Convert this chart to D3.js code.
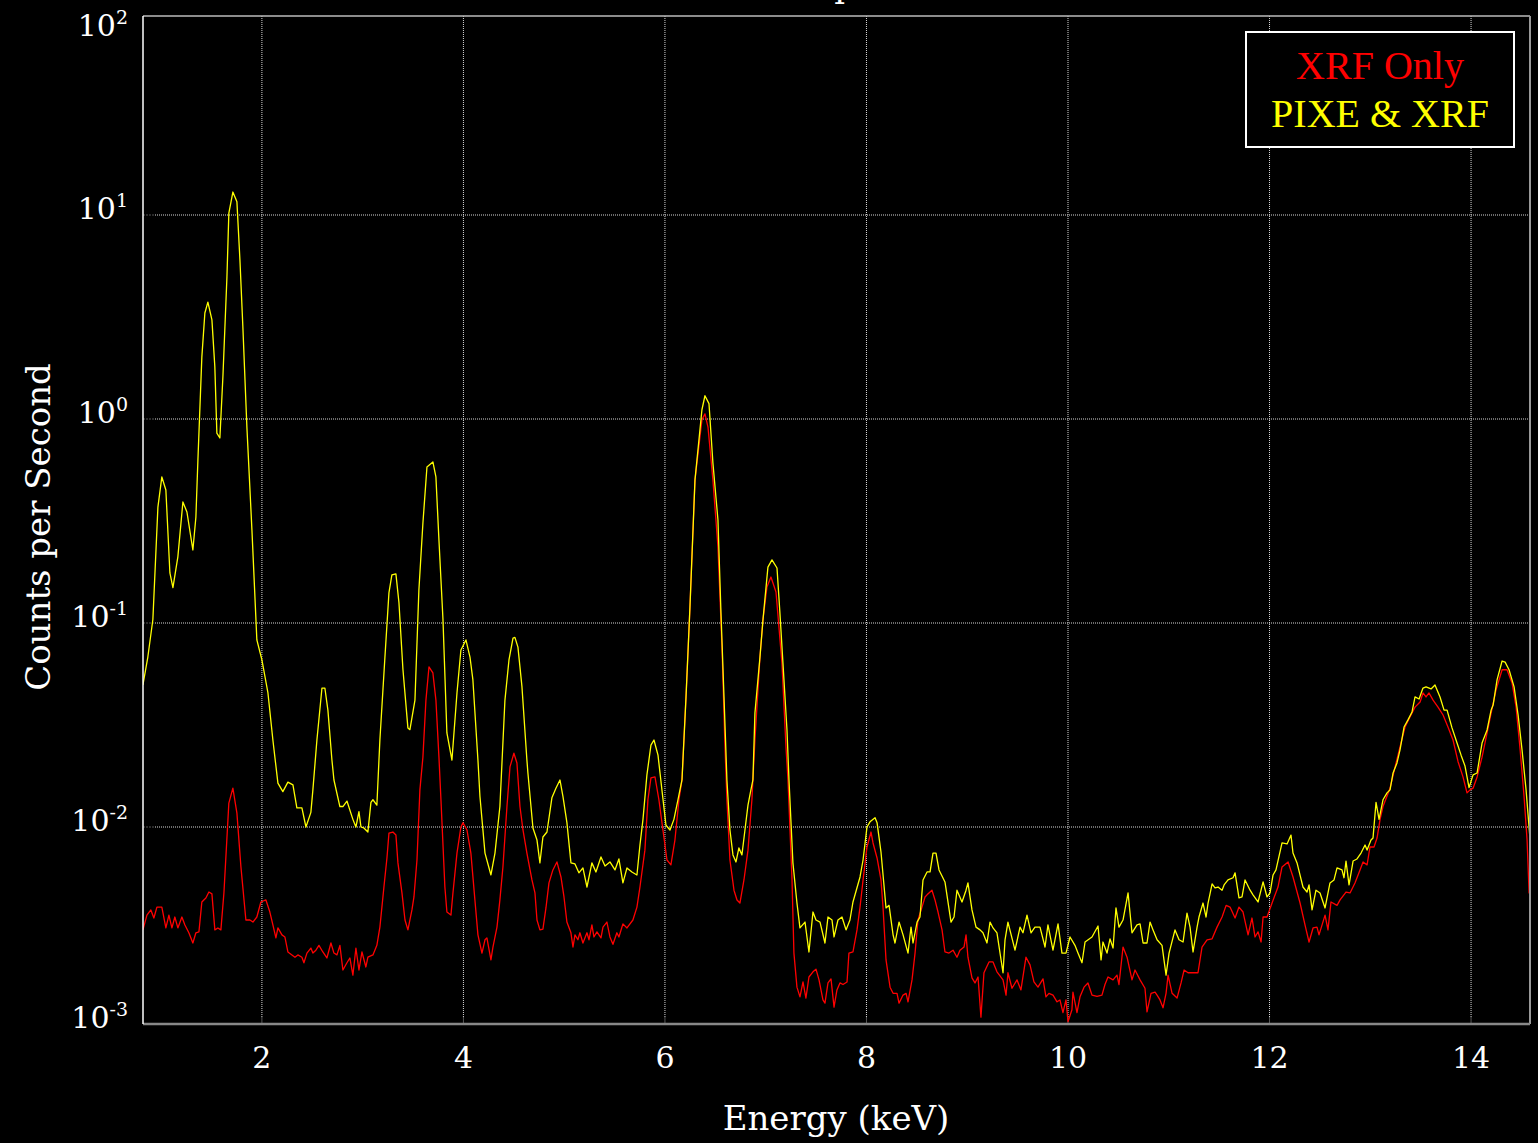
<!DOCTYPE html>
<html>
<head>
<meta charset="utf-8">
<script src="https://cdn.jsdelivr.net/npm/d3@7"></script>
<style>
  html, body { margin: 0; padding: 0; background: #000; }
  svg { display: block; }
</style>
</head>
<body>
<div id="vis"></div>
<script>
// tick values and legend entries
const xTicks = [2, 4, 6, 8, 10, 12, 14];
const yTicks = [1e-3, 1e-2, 1e-1, 1, 10, 100];
const gridY = [1e-2, 1e-1, 1, 10];
const legendLabels = ["XRF Only", "PIXE & XRF"];
const seriesColors = ["#ff0000", "#ffff00"];

// XRF only spectrum: [energy keV, counts per second]
const xrfOnly = [[0.819,0.00313],[0.859,0.0037],[0.898,0.00392],[0.928,0.00358],[0.958,0.00405],[1.007,0.00405],[1.047,0.0032],[1.077,0.0037],[1.107,0.0032],[1.136,0.00362],[1.166,0.0032],[1.206,0.00362],[1.236,0.00331],[1.275,0.00303],[1.315,0.0027],[1.345,0.00303],[1.375,0.00306],[1.404,0.00429],[1.444,0.00449],[1.474,0.0048],[1.504,0.0047],[1.533,0.00313],[1.563,0.0032],[1.593,0.00313],[1.623,0.00475],[1.672,0.0131],[1.712,0.0155],[1.752,0.0117],[1.792,0.00637],[1.841,0.0035],[1.881,0.0035],[1.911,0.00342],[1.95,0.00362],[1.99,0.00429],[2.04,0.00439],[2.079,0.00383],[2.109,0.00331],[2.139,0.00286],[2.159,0.0032],[2.199,0.00296],[2.228,0.00289],[2.258,0.00244],[2.298,0.00236],[2.328,0.0023],[2.357,0.00236],[2.397,0.0023],[2.417,0.00216],[2.447,0.00241],[2.486,0.00255],[2.506,0.00241],[2.536,0.00249],[2.566,0.00263],[2.605,0.00244],[2.645,0.00228],[2.685,0.0027],[2.715,0.00241],[2.745,0.00236],[2.774,0.00263],[2.804,0.00199],[2.844,0.00216],[2.873,0.00228],[2.903,0.00188],[2.933,0.00255],[2.963,0.00199],[2.993,0.00244],[3.032,0.00206],[3.052,0.0023],[3.102,0.00236],[3.141,0.00263],[3.171,0.00323],[3.211,0.00508],[3.241,0.00705],[3.261,0.00934],[3.3,0.00945],[3.33,0.00913],[3.35,0.00667],[3.39,0.00475],[3.42,0.0035],[3.449,0.00313],[3.489,0.00392],[3.509,0.00454],[3.539,0.00689],[3.568,0.0152],[3.598,0.022],[3.628,0.0419],[3.658,0.0609],[3.697,0.0569],[3.727,0.0419],[3.757,0.022],[3.777,0.0136],[3.816,0.00508],[3.836,0.00383],[3.876,0.0037],[3.896,0.00475],[3.936,0.00745],[3.975,0.01],[3.995,0.0105],[4.035,0.00967],[4.074,0.00745],[4.114,0.00439],[4.144,0.00296],[4.184,0.00241],[4.214,0.0028],[4.233,0.00286],[4.273,0.00223],[4.293,0.00258],[4.333,0.00323],[4.362,0.00439],[4.392,0.00637],[4.432,0.0126],[4.462,0.0197],[4.501,0.023],[4.531,0.0206],[4.561,0.0126],[4.591,0.00967],[4.63,0.00745],[4.68,0.0055],[4.71,0.00475],[4.73,0.0035],[4.759,0.00313],[4.789,0.00316],[4.819,0.00401],[4.849,0.00532],[4.888,0.00616],[4.928,0.00674],[4.968,0.00569],[4.998,0.00454],[5.027,0.00342],[5.067,0.00303],[5.087,0.00258],[5.107,0.00296],[5.136,0.0028],[5.156,0.00303],[5.186,0.0027],[5.226,0.00303],[5.246,0.0028],[5.275,0.00331],[5.295,0.00289],[5.325,0.00306],[5.365,0.00286],[5.385,0.00323],[5.424,0.00342],[5.454,0.00289],[5.484,0.00266],[5.523,0.00303],[5.543,0.00289],[5.583,0.00335],[5.623,0.0032],[5.682,0.0035],[5.722,0.00405],[5.752,0.00508],[5.801,0.0077],[5.831,0.0136],[5.861,0.0174],[5.901,0.0176],[5.94,0.0136],[5.98,0.00967],[6.02,0.00689],[6.059,0.00652],[6.099,0.00863],[6.139,0.0136],[6.169,0.017],[6.209,0.0434],[6.248,0.119],[6.298,0.503],[6.367,0.99],[6.397,1.06],[6.427,0.913],[6.476,0.503],[6.526,0.236],[6.566,0.0762],[6.596,0.0247],[6.615,0.0136],[6.645,0.00689],[6.685,0.0049],[6.715,0.00439],[6.744,0.00424],[6.784,0.0055],[6.824,0.0077],[6.863,0.0136],[6.893,0.0267],[6.943,0.0681],[6.973,0.104],[7.012,0.15],[7.052,0.168],[7.102,0.142],[7.161,0.0637],[7.201,0.0247],[7.221,0.017],[7.261,0.0055],[7.28,0.00241],[7.31,0.00164],[7.34,0.00147],[7.37,0.00174],[7.399,0.00145],[7.429,0.00184],[7.469,0.00195],[7.499,0.00201],[7.529,0.00178],[7.568,0.00142],[7.588,0.00137],[7.618,0.00172],[7.648,0.0018],[7.678,0.00131],[7.707,0.00159],[7.737,0.00172],[7.767,0.00169],[7.807,0.00174],[7.826,0.00241],[7.866,0.00244],[7.906,0.00313],[7.936,0.00405],[7.966,0.0055],[8.005,0.00798],[8.045,0.00945],[8.065,0.00835],[8.105,0.00705],[8.144,0.0055],[8.164,0.00405],[8.194,0.00223],[8.234,0.00164],[8.264,0.00153],[8.303,0.00153],[8.323,0.00137],[8.363,0.0015],[8.393,0.00153],[8.412,0.00139],[8.452,0.00178],[8.482,0.00241],[8.511,0.0035],[8.551,0.00405],[8.581,0.00454],[8.601,0.00465],[8.65,0.0049],[8.68,0.00439],[8.71,0.00383],[8.75,0.00313],[8.779,0.00244],[8.819,0.00241],[8.859,0.00249],[8.898,0.0023],[8.928,0.00249],[8.968,0.00258],[8.988,0.00296],[9.007,0.0023],[9.047,0.00182],[9.077,0.00172],[9.107,0.00184],[9.136,0.00117],[9.166,0.00193],[9.216,0.00218],[9.256,0.00218],[9.295,0.00195],[9.355,0.00178],[9.385,0.0015],[9.404,0.00193],[9.444,0.00162],[9.494,0.00178],[9.533,0.00159],[9.583,0.0023],[9.623,0.00211],[9.662,0.00174],[9.702,0.00164],[9.752,0.0018],[9.781,0.00147],[9.811,0.00153],[9.851,0.0015],[9.891,0.00139],[9.92,0.00142],[9.95,0.00123],[9.98,0.00142],[10.0,0.00111],[10.039,0.00127],[10.049,0.00155],[10.089,0.00123],[10.119,0.00147],[10.159,0.00164],[10.198,0.00172],[10.238,0.0015],[10.288,0.00148],[10.337,0.0015],[10.367,0.00169],[10.397,0.00184],[10.447,0.00178],[10.486,0.00188],[10.506,0.00169],[10.546,0.00258],[10.586,0.0023],[10.635,0.00178],[10.665,0.00199],[10.715,0.00178],[10.764,0.00162],[10.784,0.00124],[10.824,0.00153],[10.864,0.00155],[10.884,0.0015],[10.913,0.00142],[10.943,0.0013],[10.973,0.00153],[10.993,0.00188],[11.033,0.00153],[11.082,0.00145],[11.122,0.00172],[11.152,0.00199],[11.191,0.00193],[11.241,0.00193],[11.29,0.00193],[11.33,0.00258],[11.38,0.0028],[11.43,0.00283],[11.479,0.00323],[11.529,0.00362],[11.569,0.00413],[11.608,0.00405],[11.658,0.00358],[11.697,0.00405],[11.737,0.00383],[11.787,0.00296],[11.826,0.00358],[11.856,0.00289],[11.886,0.00306],[11.916,0.00273],[11.936,0.00362],[11.975,0.00362],[12.025,0.00424],[12.084,0.00508],[12.124,0.00637],[12.184,0.00674],[12.233,0.00569],[12.303,0.00424],[12.352,0.00331],[12.392,0.00273],[12.432,0.0032],[12.471,0.00323],[12.491,0.00296],[12.551,0.0037],[12.58,0.00313],[12.61,0.00429],[12.67,0.00413],[12.7,0.00439],[12.759,0.0048],[12.799,0.00475],[12.848,0.00532],[12.898,0.00616],[12.928,0.00674],[12.968,0.00652],[12.997,0.00798],[13.037,0.00798],[13.067,0.00883],[13.097,0.0109],[13.126,0.0126],[13.196,0.0155],[13.246,0.0197],[13.295,0.0247],[13.345,0.0309],[13.394,0.0346],[13.444,0.0387],[13.494,0.041],[13.523,0.0454],[13.553,0.0434],[13.583,0.0454],[13.623,0.0419],[13.672,0.0387],[13.722,0.0354],[13.771,0.0309],[13.821,0.0267],[13.871,0.0209],[13.92,0.0176],[13.96,0.0147],[13.99,0.0152],[14.02,0.0155],[14.06,0.0176],[14.109,0.022],[14.159,0.0289],[14.199,0.0362],[14.248,0.047],[14.308,0.059],[14.357,0.059],[14.407,0.0508],[14.447,0.0387],[14.487,0.0239],[14.526,0.0141],[14.556,0.00863],[14.576,0.00475],[14.586,0.0049]];

// PIXE & XRF spectrum: [energy keV, counts per second]
const pixeXrf = [[0.819,0.0497],[0.868,0.0681],[0.918,0.104],[0.968,0.37],[1.007,0.52],[1.047,0.449],[1.087,0.176],[1.117,0.149],[1.166,0.211],[1.216,0.392],[1.256,0.35],[1.315,0.228],[1.345,0.331],[1.365,0.63],[1.404,2.01],[1.434,3.31],[1.464,3.74],[1.504,3.06],[1.533,1.8],[1.553,0.853],[1.583,0.807],[1.613,1.61],[1.653,4.97],[1.672,10.2],[1.712,12.96],[1.752,11.6],[1.782,6.02],[1.811,2.83],[1.851,0.913],[1.901,0.286],[1.95,0.0826],[2.0,0.0659],[2.06,0.0454],[2.109,0.0267],[2.159,0.0164],[2.208,0.0149],[2.258,0.0166],[2.308,0.0161],[2.347,0.0124],[2.397,0.0124],[2.437,0.01],[2.486,0.0118],[2.506,0.0152],[2.546,0.0267],[2.596,0.048],[2.625,0.048],[2.655,0.0374],[2.695,0.0213],[2.715,0.017],[2.774,0.0126],[2.804,0.0126],[2.844,0.0134],[2.903,0.0109],[2.933,0.01],[2.963,0.0119],[2.983,0.01],[3.012,0.00989],[3.052,0.00945],[3.082,0.0132],[3.102,0.0136],[3.141,0.0128],[3.171,0.0267],[3.221,0.0681],[3.261,0.141],[3.29,0.172],[3.33,0.174],[3.36,0.126],[3.4,0.059],[3.449,0.0306],[3.469,0.03],[3.519,0.0419],[3.558,0.145],[3.598,0.309],[3.638,0.582],[3.697,0.616],[3.727,0.52],[3.757,0.255],[3.797,0.104],[3.836,0.0289],[3.886,0.0213],[3.936,0.0454],[3.975,0.0737],[4.025,0.0826],[4.065,0.0681],[4.094,0.0526],[4.144,0.0213],[4.164,0.0141],[4.214,0.00745],[4.273,0.00582],[4.313,0.00745],[4.362,0.0126],[4.412,0.0419],[4.452,0.0659],[4.492,0.0844],[4.511,0.085],[4.541,0.0762],[4.581,0.0486],[4.63,0.0213],[4.64,0.0184],[4.69,0.00989],[4.73,0.00863],[4.759,0.00667],[4.789,0.00893],[4.829,0.00945],[4.878,0.0139],[4.918,0.0155],[4.958,0.017],[4.988,0.0141],[5.027,0.0105],[5.067,0.00667],[5.107,0.00659],[5.146,0.00596],[5.186,0.0063],[5.226,0.00508],[5.275,0.00667],[5.315,0.00602],[5.365,0.00713],[5.405,0.00644],[5.454,0.00674],[5.504,0.00616],[5.543,0.00697],[5.583,0.00532],[5.623,0.0063],[5.672,0.00602],[5.722,0.00582],[5.752,0.00816],[5.782,0.0109],[5.821,0.018],[5.861,0.0252],[5.891,0.0267],[5.931,0.0225],[5.97,0.0152],[6.01,0.0102],[6.05,0.00967],[6.089,0.0109],[6.129,0.0136],[6.169,0.017],[6.209,0.0434],[6.248,0.119],[6.298,0.503],[6.367,1.11],[6.397,1.3],[6.437,1.19],[6.476,0.609],[6.526,0.32],[6.556,0.112],[6.586,0.0434],[6.615,0.017],[6.645,0.00967],[6.675,0.0073],[6.705,0.00674],[6.734,0.0079],[6.764,0.0073],[6.794,0.00967],[6.824,0.0128],[6.853,0.0152],[6.873,0.017],[6.893,0.0362],[6.943,0.0681],[6.973,0.104],[7.022,0.188],[7.062,0.204],[7.112,0.186],[7.141,0.112],[7.171,0.0637],[7.211,0.0299],[7.231,0.017],[7.27,0.00667],[7.31,0.00424],[7.34,0.0032],[7.39,0.00342],[7.429,0.00244],[7.469,0.00383],[7.499,0.0035],[7.539,0.00342],[7.588,0.0027],[7.618,0.00362],[7.658,0.0035],[7.678,0.00289],[7.717,0.0035],[7.757,0.00362],[7.797,0.00313],[7.836,0.0035],[7.866,0.00429],[7.936,0.00569],[7.966,0.00689],[8.005,0.01],[8.035,0.0106],[8.085,0.0111],[8.105,0.0105],[8.144,0.00754],[8.194,0.00401],[8.224,0.00413],[8.264,0.00296],[8.283,0.0027],[8.323,0.00342],[8.363,0.00296],[8.412,0.00241],[8.442,0.00323],[8.462,0.0027],[8.502,0.00342],[8.531,0.00362],[8.561,0.0055],[8.601,0.00602],[8.631,0.00602],[8.66,0.00745],[8.69,0.00745],[8.72,0.00616],[8.779,0.00538],[8.839,0.00342],[8.869,0.00362],[8.898,0.0049],[8.948,0.00429],[8.988,0.0049],[9.007,0.00532],[9.047,0.00392],[9.087,0.00323],[9.127,0.00313],[9.156,0.00303],[9.196,0.0027],[9.226,0.00342],[9.256,0.0032],[9.295,0.00303],[9.355,0.00193],[9.375,0.0028],[9.404,0.00342],[9.474,0.00249],[9.524,0.00323],[9.553,0.00303],[9.593,0.0037],[9.633,0.00303],[9.672,0.00323],[9.722,0.00323],[9.772,0.00258],[9.801,0.00331],[9.851,0.00249],[9.901,0.00335],[9.94,0.00241],[9.98,0.00241],[10.02,0.00289],[10.069,0.00263],[10.099,0.00241],[10.139,0.00216],[10.169,0.00273],[10.238,0.00289],[10.298,0.00327],[10.328,0.00223],[10.347,0.00273],[10.387,0.00241],[10.417,0.00283],[10.447,0.00255],[10.476,0.00401],[10.506,0.00323],[10.546,0.0035],[10.596,0.00475],[10.635,0.00303],[10.685,0.00331],[10.715,0.00335],[10.745,0.0027],[10.784,0.0027],[10.814,0.00342],[10.844,0.00313],[10.884,0.0028],[10.933,0.00263],[10.973,0.00188],[11.003,0.00241],[11.062,0.00313],[11.102,0.0028],[11.142,0.00273],[11.181,0.00378],[11.211,0.00323],[11.241,0.00244],[11.281,0.00323],[11.3,0.00362],[11.34,0.00424],[11.37,0.00362],[11.39,0.00424],[11.43,0.00526],[11.459,0.00503],[11.489,0.00508],[11.529,0.0049],[11.549,0.0052],[11.588,0.0055],[11.638,0.00564],[11.658,0.00596],[11.697,0.00449],[11.727,0.00454],[11.757,0.0055],[11.807,0.0049],[11.836,0.00465],[11.886,0.00429],[11.936,0.00538],[11.975,0.00454],[12.005,0.00475],[12.035,0.00582],[12.064,0.00616],[12.124,0.00835],[12.174,0.00826],[12.213,0.00913],[12.233,0.00745],[12.273,0.00667],[12.332,0.00508],[12.372,0.0048],[12.392,0.0052],[12.422,0.00392],[12.461,0.0049],[12.501,0.00475],[12.551,0.00401],[12.6,0.00532],[12.64,0.0055],[12.67,0.0063],[12.719,0.00616],[12.739,0.00564],[12.759,0.00681],[12.789,0.0052],[12.829,0.00681],[12.868,0.00697],[12.908,0.00745],[12.948,0.00816],[12.968,0.00771],[13.007,0.00863],[13.027,0.00883],[13.057,0.0132],[13.087,0.0109],[13.126,0.0136],[13.166,0.0147],[13.196,0.0152],[13.226,0.0184],[13.265,0.0206],[13.295,0.0239],[13.335,0.0309],[13.374,0.0335],[13.414,0.0366],[13.444,0.0434],[13.484,0.0424],[13.523,0.048],[13.553,0.0486],[13.603,0.0475],[13.642,0.0497],[13.692,0.0434],[13.732,0.0374],[13.762,0.0374],[13.811,0.0306],[13.861,0.0258],[13.901,0.0225],[13.94,0.0199],[13.98,0.0156],[14.02,0.018],[14.06,0.0184],[14.109,0.0258],[14.159,0.0299],[14.199,0.0374],[14.219,0.0396],[14.258,0.0526],[14.308,0.0651],[14.338,0.0643],[14.377,0.059],[14.427,0.0486],[14.467,0.0354],[14.506,0.0239],[14.546,0.0152],[14.586,0.00863]];

// dimensions
let width = 1538;
let height = 1143;
let margin = { top: 16, right: 8, bottom: 119, left: 143 };

let svg = d3.select("#vis")
  .append("svg")
  .attr("width", width)
  .attr("height", height)
  .style("background", "black");

let serif = "'DejaVu Serif', Georgia, serif";

// scales
let xScale = d3.scaleLinear()
  .domain([0.82, 14.585])
  .range([margin.left, width - margin.right]);

let yScale = d3.scaleLog()
  .domain([1e-3, 1e2])
  .range([1031, 11]);

let plotTop = margin.top;
let plotBottom = height - margin.bottom;

svg.append("clipPath").attr("id", "plot-clip")
  .append("rect")
  .attr("x", margin.left)
  .attr("y", plotTop)
  .attr("width", width - margin.right - margin.left)
  .attr("height", plotBottom - plotTop);

// grid lines, dotted
let grid = svg.append("g");
grid.selectAll(".vgrid")
  .data(xTicks)
  .enter()
  .append("line")
  .attr("x1", d => xScale(d)).attr("x2", d => xScale(d))
  .attr("y1", plotTop).attr("y2", plotBottom - 7)
  .attr("stroke", "#d8d8d8")
  .attr("stroke-width", 1)
  .attr("stroke-dasharray", "1,1");
grid.selectAll(".vtick")
  .data(xTicks)
  .enter()
  .append("line")
  .attr("x1", d => xScale(d)).attr("x2", d => xScale(d))
  .attr("y1", plotBottom - 7).attr("y2", plotBottom)
  .attr("stroke", "#555")
  .attr("stroke-width", 1);

grid.selectAll(".hgrid")
  .data(gridY)
  .enter()
  .append("line")
  .attr("x1", margin.left + 12).attr("x2", width - margin.right)
  .attr("y1", d => yScale(d)).attr("y2", d => yScale(d))
  .attr("stroke", "#d8d8d8")
  .attr("stroke-width", 1)
  .attr("stroke-dasharray", "1,1");
grid.selectAll(".htick")
  .data(gridY)
  .enter()
  .append("line")
  .attr("x1", margin.left).attr("x2", margin.left + 12)
  .attr("y1", d => yScale(d)).attr("y2", d => yScale(d))
  .attr("stroke", "#555")
  .attr("stroke-width", 1)
  .attr("stroke-dasharray", "2,1");

// spectra lines (XRF only underneath)
let line = d3.line()
  .x(d => xScale(d[0]))
  .y(d => yScale(d[1]));

let lines = svg.append("g").attr("clip-path", "url(#plot-clip)");
[xrfOnly, pixeXrf].forEach(function(series, i) {
  lines.append("path")
    .datum(series)
    .attr("d", line)
    .attr("fill", "none")
    .attr("stroke", seriesColors[i])
    .attr("stroke-width", 1.3)
    .attr("stroke-linejoin", "round");
});

// frame
svg.append("line")
  .attr("x1", margin.left).attr("x2", width - margin.right)
  .attr("y1", plotTop).attr("y2", plotTop)
  .attr("stroke", "#bbb").attr("stroke-width", 1.5);
svg.append("line")
  .attr("x1", width - margin.right).attr("x2", width - margin.right)
  .attr("y1", plotTop).attr("y2", plotBottom)
  .attr("stroke", "#999").attr("stroke-width", 2);
svg.append("line")
  .attr("x1", margin.left).attr("x2", width - margin.right)
  .attr("y1", plotBottom).attr("y2", plotBottom)
  .attr("stroke", "#888").attr("stroke-width", 2.5);
svg.append("line")
  .attr("x1", margin.left).attr("x2", margin.left)
  .attr("y1", plotTop).attr("y2", plotBottom)
  .attr("stroke", "#fff").attr("stroke-width", 1.5);

// x tick labels
svg.selectAll(".xlabel")
  .data(xTicks)
  .enter()
  .append("text")
  .attr("x", d => xScale(d))
  .attr("y", 1068)
  .attr("text-anchor", "middle")
  .attr("fill", "#fff")
  .style("font-family", serif)
  .style("font-size", "30px")
  .text(d => d);

// y tick labels as powers of ten
let yLabels = svg.selectAll(".ylabel")
  .data(yTicks)
  .enter()
  .append("text")
  .attr("x", 128)
  .attr("y", d => Math.max(36, Math.min(1028, yScale(d) + 4)))
  .attr("text-anchor", "end")
  .attr("fill", "#fff")
  .style("font-family", serif)
  .style("font-size", "30px");
yLabels.append("tspan").text("10");
yLabels.append("tspan")
  .attr("dy", -12)
  .style("font-size", "19px")
  .text(d => String(Math.round(Math.log10(d))));

// axis titles
svg.append("text")
  .attr("x", 836)
  .attr("y", 1130)
  .attr("text-anchor", "middle")
  .attr("fill", "#fff")
  .style("font-family", serif)
  .style("font-size", "34px")
  .text("Energy (keV)");

svg.append("text")
  .attr("transform", "translate(50, 527) rotate(-90)")
  .attr("text-anchor", "middle")
  .attr("fill", "#fff")
  .style("font-family", serif)
  .style("font-size", "34px")
  .text("Counts per Second");

// chart title, mostly above the top edge as in the original
svg.append("text")
  .attr("x", 836)
  .attr("y", -3)
  .attr("text-anchor", "middle")
  .attr("fill", "#fff")
  .style("font-family", serif)
  .style("font-size", "34px")
  .text("XRF Spectra");

// legend
let legend = svg.append("g");
legend.append("rect")
  .attr("x", 1246)
  .attr("y", 32)
  .attr("width", 268)
  .attr("height", 115)
  .attr("fill", "#000")
  .attr("stroke", "#fff")
  .attr("stroke-width", 2);
legend.selectAll("text")
  .data(legendLabels)
  .enter()
  .append("text")
  .attr("x", 1380)
  .attr("y", (d, i) => 79 + i * 48)
  .attr("text-anchor", "middle")
  .attr("fill", (d, i) => seriesColors[i])
  .style("font-family", "'Liberation Serif', 'Times New Roman', serif")
  .style("font-size", "40px")
  .text(d => d);
</script>
</body>
</html>
